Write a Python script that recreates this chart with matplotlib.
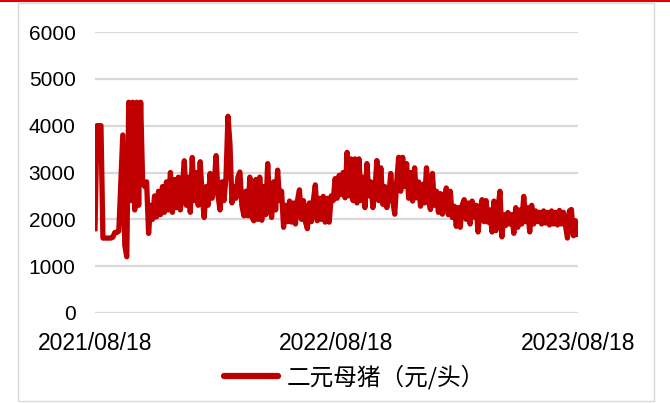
import matplotlib
matplotlib.use('Agg')
import matplotlib.pyplot as plt
import pandas as pd
from matplotlib.patches import Rectangle
from matplotlib.lines import Line2D

# ---------------- data ----------------
start_date = '2021-08-18'
end_date = '2023-08-18'
series_name = '二元母猪（元/头）'
tick_dates = ['2021-08-18', '2022-08-18', '2023-08-18']
tick_labels = ['2021/08/18', '2022/08/18', '2023/08/18']
y_ticks = [0, 1000, 2000, 3000, 4000, 5000, 6000]

values = [
    1800, 4000, 4000, 4000, 1600, 1600, 1600, 1600, 1600, 1620,
    1720, 1720, 1750, 2800, 3800, 1450, 1200, 4500, 2400, 4500,
    2200, 4500, 2300, 4500, 2800, 2700, 2800, 1700, 2300, 2000,
    2500, 2050, 2600, 2100, 2700, 2150, 2800, 2200, 3000, 2150,
    2850, 2250, 2900, 2200, 2700, 3250, 2300, 2900, 2150, 3320,
    2400, 3000, 2300, 3230, 2500, 2040, 2700, 2300, 2980, 2450,
    2700, 3360, 2500, 2200, 2800, 2400, 2900, 4200, 3600, 2350,
    2700, 2450, 2900, 3010, 2300, 2075, 2600, 2075, 2900, 2050,
    1970, 2850, 2000, 2900, 1980, 2700, 2100, 3190, 2300, 2040,
    2800, 2200, 3050, 2400, 2600, 1830, 2300, 1950, 2390, 1940,
    2350, 1900, 2400, 2630, 2000, 2400, 1950, 1800, 2350, 1950,
    2400, 2735, 1970, 2450, 2000, 2490, 1940, 2450, 1940, 2500,
    2400, 2870, 2450, 2940, 2530, 3000, 2460, 3430, 2500, 3290,
    2400, 3290, 2350, 3290, 2400, 2900, 2250, 3190, 2500, 2800,
    2250, 2600, 3255, 2400, 3100, 2320, 2700, 2250, 2500, 2980,
    2400, 2110, 2800, 3325, 2600, 3325, 2700, 3190, 2450, 3000,
    2390, 3100, 2460, 2800, 2280, 2750, 2350, 3100, 2400, 2210,
    2980, 2300, 2600, 2150, 2550, 2110, 2450, 2670, 2100, 2600,
    2040, 2280, 1850, 2250, 1830, 2300, 2420, 2000, 2350, 1900,
    2390, 2050, 2300, 1730, 2200, 2420, 1950, 2400, 1940, 2200,
    1730, 2390, 1760, 2200, 2600, 1625, 2100, 1870, 2145, 1900,
    2100, 1700, 2250, 1830, 2200, 1900, 2490, 1950, 2250, 1730,
    2300, 1900, 2180, 1950, 2150, 1900, 2180, 1920, 2150, 1880,
    2180, 1900, 2150, 1880, 2190, 1900, 2150, 1880, 1600, 2180,
    2210, 1650, 1970, 1680,
]
dates = pd.date_range(start_date, periods=len(values), freq='3D')

# ---------------- style ----------------
RED = '#c00000'
GRID = '#d9d9d9'
W, H = 670, 403
plt.rcParams['font.family'] = ['Liberation Sans', 'Noto Sans CJK SC', 'DejaVu Sans']

fig = plt.figure(figsize=(W / 100, H / 100), dpi=100)

# outer border and top red line
fig.patches.append(Rectangle((18 / W, 1 - 401 / H), (654 - 18) / W, (401 - 3) / H,
                             transform=fig.transFigure, fill=False,
                             edgecolor=GRID, linewidth=1.0))
fig.lines.append(Line2D([0, 1], [1 - 0.8 / H, 1 - 0.8 / H], transform=fig.transFigure,
                        color='#e00000', linewidth=1.5))

ax = fig.add_axes([95 / W, 1 - 313 / H, (578 - 95) / W, (313 - 32) / H])
ax.plot(dates, values, color=RED, linewidth=3.8, solid_joinstyle='round',
        label=series_name, zorder=3)

ax.set_xlim(pd.Timestamp(start_date), pd.Timestamp(end_date))
ax.set_ylim(0, 6000)
ax.set_yticks(y_ticks)
ax.set_yticklabels([str(v) for v in y_ticks])
ax.set_xticks([pd.Timestamp(d) for d in tick_dates])
ax.set_xticklabels(tick_labels)
ax.tick_params(axis='both', length=0, colors='#000000')
ax.tick_params(axis='y', pad=14, labelsize=15)
ax.tick_params(axis='x', pad=14, labelsize=16.5)
for s in ax.spines.values():
    s.set_visible(False)
ax.yaxis.grid(True, color=GRID, linewidth=1.6)
ax.set_axisbelow(True)
ax.set_facecolor('none')

leg = ax.legend(loc='center', bbox_to_anchor=(354 / W, 1 - 377 / H),
                bbox_transform=fig.transFigure, frameon=False,
                prop={'family': ['Noto Sans CJK SC', 'DejaVu Sans'], 'size': 17},
                handlelength=2.3, handletextpad=0.35)
for l in leg.get_lines():
    l.set_linewidth(4.5)
    l.set_solid_capstyle('round')

fig.savefig('out.png', dpi=100)
